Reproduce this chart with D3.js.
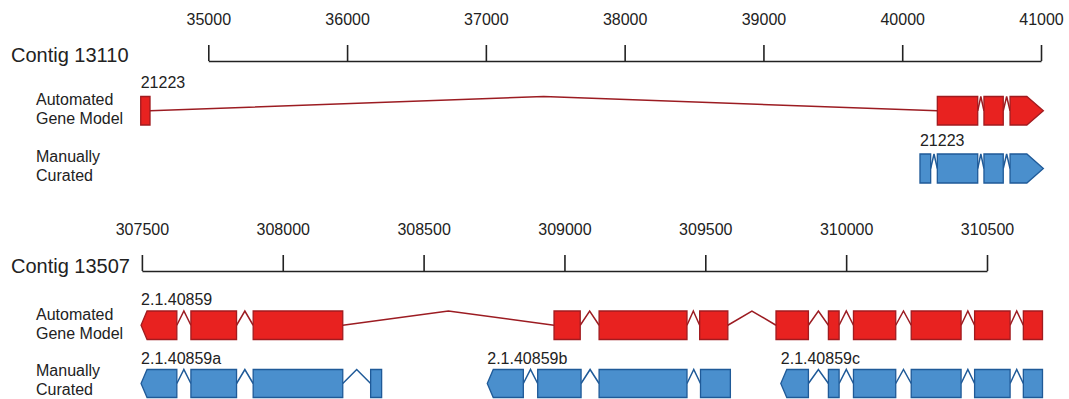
<!DOCTYPE html>
<html>
<head>
<meta charset="utf-8">
<script src="https://cdn.jsdelivr.net/npm/d3@7"></script>
<style>
  html, body { margin: 0; padding: 0; background: #ffffff; }
  svg { display: block; }
  text { font-family: "Liberation Sans", Arial, sans-serif; fill: #222; }
</style>
</head>
<body>
<div id="chart"></div>
<script>
// ---------------- data ----------------
const contigNames = ["Contig 13110", "Contig 13507"];
const rowLabels = [["Automated", "Gene Model"], ["Manually", "Curated"]];

const topTicks = [35000, 36000, 37000, 38000, 39000, 40000, 41000];
const bottomTicks = [307500, 308000, 308500, 309000, 309500, 310000, 310500];

// Contig 13110 (forward strand)
const topAutoLabel = "21223";
const topAutoExons = [[34513, 34580], [40253, 40544], [40589, 40728], [40777, 41017]];
const topManualLabel = "21223";
const topManualExons = [[40128, 40205], [40253, 40544], [40589, 40728], [40777, 41017]];

// Contig 13507 (reverse strand)
const bottomAutoLabel = "2.1.40859";
const bottomAutoExons = [
  [307497, 307624], [307674, 307836], [307895, 308213], [308963, 309056],
  [309123, 309435], [309480, 309580], [309751, 309866], [309937, 309975],
  [310026, 310176], [310231, 310408], [310456, 310582], [310629, 310697]
];
const bottomManualLabels = ["2.1.40859a", "2.1.40859b", "2.1.40859c"];
const bottomManualA = [[307497, 307624], [307674, 307836], [307895, 308213], [308312, 308351]];
const bottomManualB = [[308726, 308854], [308905, 309059], [309123, 309435], [309483, 309589]];
const bottomManualC = [[309768, 309866], [309937, 309975], [310026, 310176], [310231, 310408], [310456, 310582], [310629, 310697]];

// ---------------- styles ----------------
const W = 1069, H = 399;
const RED = { fill: "#e82220", stroke: "#a11b1f", intron: "#9c1c22" };
const BLUE = { fill: "#4a8fcd", stroke: "#1f5a98", intron: "#1f5a98" };

const svg = d3.select("#chart").append("svg")
  .attr("width", W).attr("height", H)
  .attr("viewBox", `0 0 ${W} ${H}`);

function drawAxis(scale, ticks, y) {
  const ax = d3.axisTop(scale)
    .tickValues(ticks)
    .tickFormat(d3.format("d"))
    .tickSize(16)
    .tickSizeOuter(0)
    .tickPadding(20);
  const g = svg.append("g").attr("transform", `translate(0,${y})`).call(ax);
  g.select(".domain").attr("stroke", "#222").attr("stroke-width", 1.6);
  g.selectAll(".tick line").attr("stroke", "#222").attr("stroke-width", 1.6);
  g.selectAll(".tick text")
    .style("font-family", '"Liberation Sans", Arial, sans-serif')
    .style("font-size", "16px").attr("fill", "#222");
  return g;
}

function drawGene(scale, exons, top, h, color, strand, head) {
  const mid = top + h / 2;
  const g = svg.append("g");
  // introns
  for (let i = 0; i < exons.length - 1; i++) {
    const a = scale(exons[i][1]), b = scale(exons[i + 1][0]);
    g.append("path")
      .attr("d", `M${a},${mid}L${(a + b) / 2},${top}L${b},${mid}`)
      .attr("fill", "none").attr("stroke", color.intron).attr("stroke-width", 1.5)
      .attr("stroke-linejoin", "miter");
  }
  // exons
  exons.forEach((e, i) => {
    const x0 = scale(e[0]), x1 = scale(e[1]);
    let pts;
    if (strand === "+" && i === exons.length - 1) {
      pts = [[x0, top], [x1 - head, top], [x1, mid], [x1 - head, top + h], [x0, top + h]];
    } else if (strand === "-" && i === 0) {
      pts = [[x0, mid], [x0 + head, top], [x1, top], [x1, top + h], [x0 + head, top + h]];
    } else {
      pts = [[x0, top], [x1, top], [x1, top + h], [x0, top + h]];
    }
    g.append("path")
      .attr("d", "M" + pts.map(p => p.join(",")).join("L") + "Z")
      .attr("fill", color.fill).attr("stroke", color.stroke).attr("stroke-width", 1.3)
      .attr("stroke-linejoin", "miter");
  });
}

function label(txt, x, y, size, anchor) {
  svg.append("text").attr("x", x).attr("y", y)
    .attr("font-size", size).attr("text-anchor", anchor || "start").text(txt);
}

// ---------------- top panel ----------------
const xTop = d3.scaleLinear().domain([35000, 41000]).range([208.3, 1041]);
drawAxis(xTop, topTicks, 61);
label(contigNames[0], 11, 62, 20);
label(rowLabels[0][0], 36, 105, 16);
label(rowLabels[0][1], 36, 124, 16);
label(rowLabels[1][0], 36, 162, 16);
label(rowLabels[1][1], 36, 181, 16);

drawGene(xTop, topAutoExons, 96.5, 28.5, RED, "+", 16.5);
label(topAutoLabel, xTop(topAutoExons[0][0]), 88, 16);
drawGene(xTop, topManualExons, 154, 29, BLUE, "+", 16.5);
label(topManualLabel, xTop(topManualExons[0][0]), 146, 16);

// ---------------- bottom panel ----------------
const xBot = d3.scaleLinear().domain([307500, 310500]).range([141.9, 987]);
drawAxis(xBot, bottomTicks, 271);
label(contigNames[1], 11, 273, 20);
label(rowLabels[0][0], 36, 320, 16);
label(rowLabels[0][1], 36, 339, 16);
label(rowLabels[1][0], 36, 376, 16);
label(rowLabels[1][1], 36, 395, 16);

drawGene(xBot, bottomAutoExons, 311, 28.5, RED, "-", 6);
label(bottomAutoLabel, xBot(bottomAutoExons[0][0]), 305, 16);
[bottomManualA, bottomManualB, bottomManualC].forEach((ex, i) => {
  drawGene(xBot, ex, 369.5, 28, BLUE, "-", 6);
  label(bottomManualLabels[i], xBot(ex[0][0]), 364, 16);
});
</script>
</body>
</html>
